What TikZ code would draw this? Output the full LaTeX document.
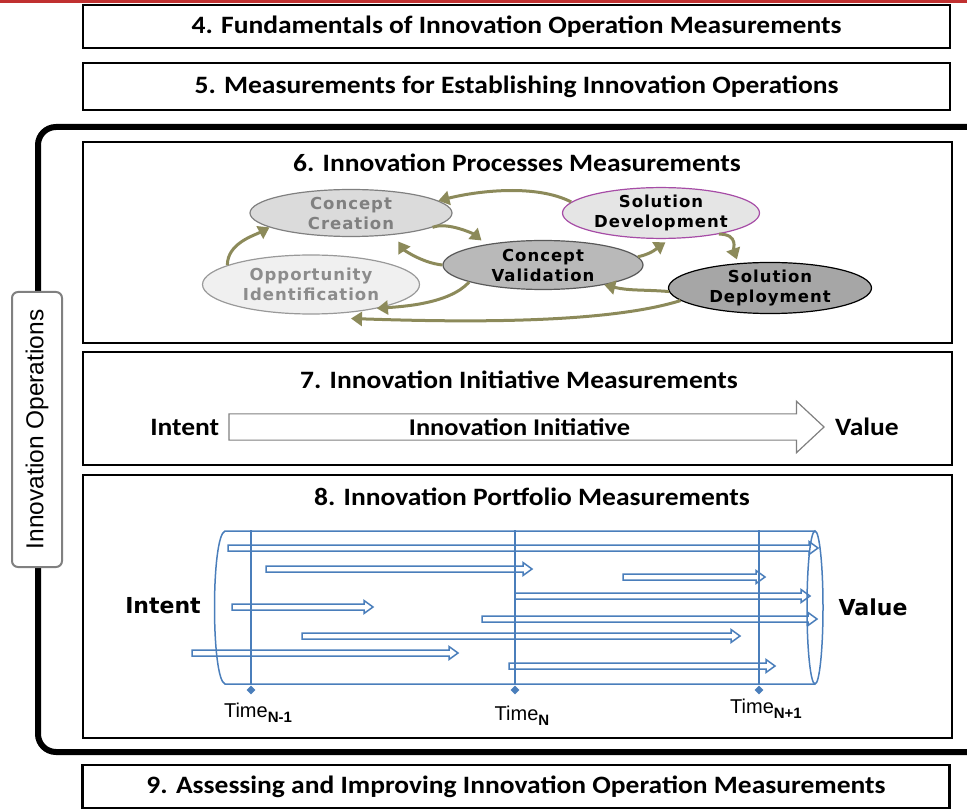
\documentclass[tikz,border=0pt]{standalone}
\usepackage{fontspec}
\setmainfont{Liberation Sans}
\newfontfamily\headfont[FakeStretch=1.1]{Carlito}
\newfontfamily\phasefont[LetterSpace=6]{DejaVu Sans}
\newfontfamily\heavyfont{DejaVu Sans}
\usetikzlibrary{shapes.geometric,shapes.arrows,arrows.meta,positioning}
\definecolor{cycleolive}{RGB}{140,138,90}
\definecolor{pipeblue}{RGB}{74,126,187}
\definecolor{headred}{RGB}{192,48,48}

\begin{document}
\begin{tikzpicture}[x=1pt,y=-1pt]
    \tikzset{section/.style = {draw, line width=2.8pt, minimum width=867pt, inner sep=0pt,
        font=\headfont\bfseries\fontsize{25}{29}\selectfont}}
    \tikzset{headline/.style = {inner sep=0pt, font=\headfont\bfseries\fontsize{25}{29}\selectfont}}
    \tikzset{phase/.style = {ellipse, draw, line width=1.2pt, inner sep=0pt, align=center,
        font=\phasefont\bfseries\fontsize{16.5}{20}\selectfont}}
    \tikzset{cycle/.style = {cycleolive, line width=3pt, -{Triangle[length=11pt,width=14pt]}}}
    \tikzset{pipe/.style = {pipeblue, line width=1.5pt, fill=white}}
    \tikzset{tick/.style = {diamond, fill=pipeblue, inner sep=0pt, minimum size=9pt}}
    \tikzset{timelab/.style = {inner sep=0pt, font=\fontsize{20}{20}\selectfont}}
    \tikzset{bigword/.style = {inner sep=0pt, font=\heavyfont\bfseries\fontsize{22}{22}\selectfont}}
    \useasboundingbox (0,0) rectangle (967,810);
    \fill[headred] (0,0) rectangle (967,3);
    % the frame round sections 6 to 8
    \begin{scope}
    \clip (0,0) rectangle (967,810);
    \draw[line width=6pt, rounded corners=18pt] (38,127) rectangle (1000,752);
    \end{scope}
    \node[draw=gray, line width=2pt, rounded corners=6pt, fill=white, rotate=90,
        minimum width=275pt, minimum height=50pt, font=\fontsize{24.5}{24.5}\selectfont]
        (ops) at (37,429.5) {Innovation Operations};
    % sections outside the frame
    \node[section, minimum height=43pt] (s4) at (516.5,26.5) {4. Fundamentals of Innovation Operation Measurements};
    \node[section, minimum height=47pt] (s5) at (516.5,86.5) {5. Measurements for Establishing Innovation Operations};
    \node[section, minimum height=43pt] (s9) at (516,786.5) {9. Assessing and Improving Innovation Operation Measurements};
    % section 6 with the process cycle
    \node[section, minimum width=869pt, minimum height=201pt] (s6) at (517.5,242.5) {};
    \node[headline] (t6) at (517,163) {6. Innovation Processes Measurements};
    \node[phase, minimum width=202pt, minimum height=47pt, fill=gray!28, draw=gray, text=gray] (cc) at (351,213) {Concept\\Creation};
    \node[phase, minimum width=217pt, minimum height=59pt, fill=gray!12, draw=gray!80, text=gray!90] (oi) at (311,284.5) {Opportunity\\Identification};
    \node[phase, minimum width=200pt, minimum height=49pt, fill=gray!55, draw=gray!70!black] (cv) at (543,265) {Concept\\Validation};
    \node[phase, minimum width=197pt, minimum height=47pt, fill=gray!20, draw=violet!70] (sdev) at (661,213) {Solution\\Development};
    \node[phase, minimum width=203pt, minimum height=46pt, fill=gray!70, draw=black] (sdep) at (770,288) {Solution\\Deployment};
    \draw[cycle] (oi.167) .. controls +(0,-22) and +(-15,8) .. (cc.190);
    \draw[cycle, shorten >=6pt] (cc.-10) .. controls +(15,-6) and +(-12,-10) .. (cv.160);
    \draw[cycle, shorten >=8pt] (cv.180) .. controls +(-20,-2) and +(10,15) .. (cc.-27);
    \draw[cycle] (cv.193) .. controls +(-20,22) and +(25,-2) .. (oi.-20);
    \draw[cycle] (sdev.173) .. controls +(-35,-18) and +(40,-10) .. (cc.8);
    \draw[cycle, shorten >=6pt] (cv.5) .. controls +(15,-3) and +(-12,8) .. (sdev.-70);
    \draw[cycle, shorten >=4pt] (sdev.-20) .. controls +(20,0) and +(-5,-14) .. (sdep.142);
    \draw[cycle] (sdep.182) .. controls +(-25,-2) and +(25,6) .. (cv.-18);
    \draw[cycle] (sdep.188) .. controls +(-80,25) and +(90,3) .. ([yshift=-6pt]oi.-35);
    % section 7 with one initiative
    \node[section, minimum width=869pt, minimum height=113pt] (s7) at (517.5,408.5) {};
    \node[headline] (t7) at (519,380) {7. Innovation Initiative Measurements};
    \node[single arrow, draw=gray, line width=1.2pt, fill=white, minimum height=595pt,
        single arrow head extend=12.5pt, single arrow tip angle=86, inner ysep=4pt,
        font=\headfont\bfseries\fontsize{24}{28}\selectfont] (init) at (519.5,427) {Innovation Initiative};
    \node[headline, left=9pt of init] (intent) {Intent};
    \node[headline, right=10pt of init] (value) {Value};
    % section 8 with the portfolio
    \node[section, minimum width=869pt, minimum height=263pt] (s8) at (517.5,606.5) {};
    \node[headline] (t8) at (532,497) {8. Innovation Portfolio Measurements};
    \foreach \xa/\xb/\yy in {228/818/548, 266/532/569, 623/765/577, 515/810/596, 232/373/607,
        482/817/619, 302/740/636, 192/458/653, 509/775/666}
        \draw[pipe] (\xa,\yy-3) -- (\xb-9,\yy-3) -- (\xb-9,\yy-6.5) -- (\xb,\yy)
            -- (\xb-9,\yy+6.5) -- (\xb-9,\yy+3) -- (\xa,\yy+3) -- cycle;
    \draw[pipeblue, line width=1.5pt] (815,531) -- (225,531) .. controls (211,536) and (211,679) .. (225,684) -- (815,684);
    \draw[pipeblue, line width=1.5pt] (815,607.5) ellipse [x radius=8, y radius=76.5];
    \foreach \tx/\name/\lab/\ly in {251/ta/{N-1}/713, 515/tb/N/716, 759/tc/{N+1}/709} {
        \coordinate (\name top) at (\tx,530);
        \node[tick] (\name) at (\tx,690) {};
        \draw[pipeblue, line width=1.3pt] (\name top) -- (\name);
        \node[timelab] (\name lab) at (\tx+7,\ly) {Time\raisebox{-5pt}{\fontsize{15}{15}\bfseries\lab}};
    }
    \node[bigword] (pintent) at (163,606) {Intent};
    \node[bigword] (pvalue) at (873,607) {Value};
\end{tikzpicture}
\end{document}
